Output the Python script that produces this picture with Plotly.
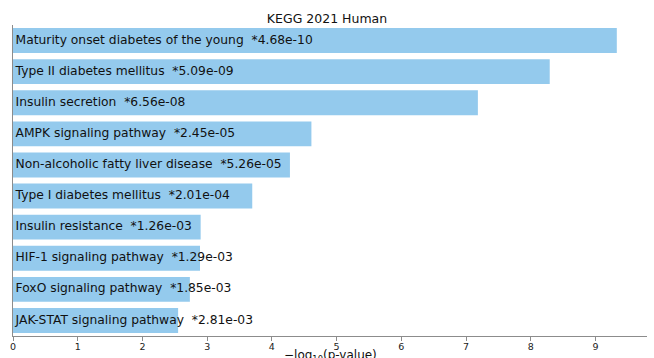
import numpy as np
import plotly.graph_objects as go

terms = [
    "Maturity onset diabetes of the young",
    "Type II diabetes mellitus",
    "Insulin secretion",
    "AMPK signaling pathway",
    "Non-alcoholic fatty liver disease",
    "Type I diabetes mellitus",
    "Insulin resistance",
    "HIF-1 signaling pathway",
    "FoxO signaling pathway",
    "JAK-STAT signaling pathway",
]
pvalues = [4.68e-10, 5.09e-09, 6.56e-08, 2.45e-05, 5.26e-05,
           2.01e-04, 1.26e-03, 1.29e-03, 1.85e-03, 2.81e-03]
x_ticks = [0, 1, 2, 3, 4, 5, 6, 7, 8, 9]

scores = [-np.log10(p) for p in pvalues]
labels = [f"{t}  *{p:.2e}" for t, p in zip(terms, pvalues)]
pos = list(range(len(terms)))

bar_color = "#94CAED"
axis_color = "#8c8c8c"
font = "DejaVu Sans"

fig = go.Figure()
fig.add_trace(go.Bar(
    x=scores, y=pos, orientation="h",
    marker=dict(color=bar_color, line=dict(width=0)),
    width=0.8, hoverinfo="skip",
))
fig.add_trace(go.Scatter(
    x=[0.04] * len(pos), y=pos, mode="text",
    text=labels, textposition="middle right",
    textfont=dict(family=font, size=12.3, color="#111111"),
    hoverinfo="skip",
))

xmax = max(scores) * 1.05
fig.update_layout(
    width=654, height=358,
    margin=dict(l=13, r=7, t=25, b=22),
    paper_bgcolor="white", plot_bgcolor="white",
    showlegend=False,
    font=dict(family=font, color="#222222"),
    title=dict(text="KEGG 2021 Human", x=0.5, xanchor="center",
               y=1 - 19 / 358, yanchor="middle", yref="container",
               font=dict(family=font, size=12.5, color="#111111")),
    xaxis=dict(range=[0, xmax], tickvals=x_ticks, showgrid=False, zeroline=False,
               showline=True, linecolor=axis_color, linewidth=1,
               ticks="outside", ticklen=3.5, tickcolor=axis_color,
               ticklabelstandoff=-2,
               tickfont=dict(family=font, size=9.5, color="#222222")),
    yaxis=dict(range=[9.5, -0.5], showgrid=False, zeroline=False,
               showline=True, linecolor=axis_color, linewidth=1,
               showticklabels=False, ticks=""),
    annotations=[dict(text="\u2212log<sub>10</sub>(p-value)", xref="paper", yref="paper",
                      x=0.5, y=0, yanchor="middle", yshift=-20, showarrow=False,
                      font=dict(family=font, size=12, color="#111111"))],
)

fig.write_html("out.html")
